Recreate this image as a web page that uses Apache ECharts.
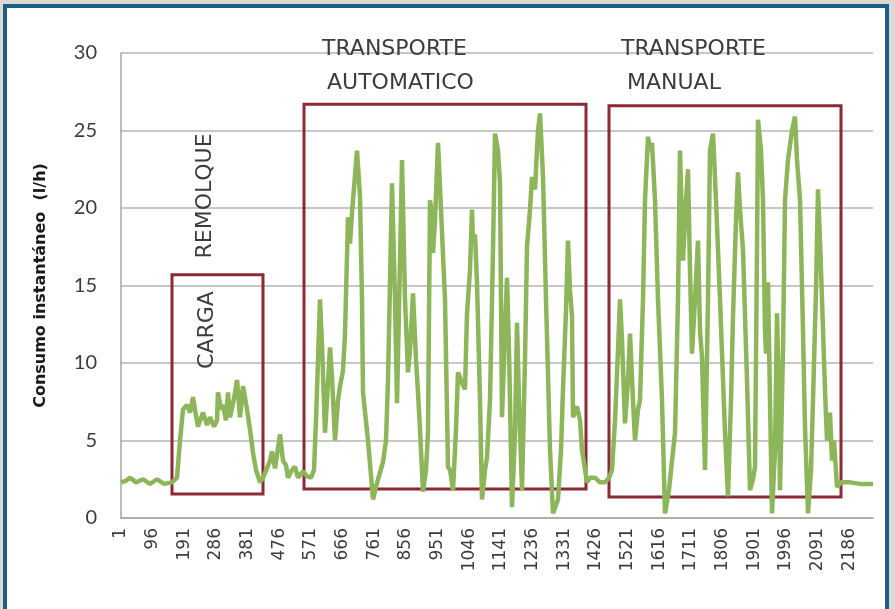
<!DOCTYPE html>
<html>
<head>
<meta charset="utf-8">
<script src="https://cdn.jsdelivr.net/npm/echarts@6/dist/echarts.min.js"></script>
<style>
html,body{margin:0;padding:0;background:#dcd9d4;width:895px;height:609px;overflow:hidden;}
#frame{position:absolute;left:3px;top:4px;width:878px;height:640px;border:4px solid #1b5f86;background:#fff;}
#chart{position:absolute;left:0;top:0;width:895px;height:609px;}
</style>
</head>
<body>
<div id="frame"></div>
<div id="chart"></div>
<script>
// Number of samples on the category axis
const sampleCount = 2257;
const categories = [];
for (let i = 1; i <= sampleCount; i++) categories.push(String(i));

// Sample numbers (x) and instantaneous consumption (l/h)
const sampleIdx = [
  1,16,28,46,67,88,109,130,154,169,178,187,199,208,217,226,232,247,259,268,
  280,289,292,301,307,316,322,328,340,349,358,367,379,388,397,406,418,427,439,448,
  454,463,472,478,487,496,502,514,523,532,538,547,559,571,580,586,592,598,604,613,
  619,628,634,643,652,658,667,673,682,688,694,703,709,718,724,727,742,757,772,787,
  796,802,808,814,823,829,838,844,853,862,868,877,886,892,898,907,916,922,928,934,
  937,943,952,961,973,982,988,997,1006,1012,1024,1033,1039,1048,1054,1057,1063,1069,1078,1084,
  1093,1099,1108,1117,1123,1132,1138,1144,1153,1159,1165,1168,1174,1183,1189,1195,1204,1213,1219,1228,
  1234,1243,1252,1258,1267,1276,1288,1297,1312,1321,1327,1336,1342,1348,1354,1357,1369,1378,1384,1399,
  1408,1423,1438,1453,1465,1474,1483,1492,1498,1504,1513,1522,1528,1537,1543,1552,1558,1567,1573,1582,
  1588,1594,1603,1612,1624,1633,1645,1654,1663,1672,1678,1687,1696,1702,1708,1714,1723,1732,1738,1744,
  1753,1762,1768,1777,1786,1798,1813,1822,1831,1837,1846,1852,1858,1867,1879,1888,1897,1903,1909,1912,
  1921,1927,1933,1936,1939,1942,1948,1954,1963,1969,1975,1978,1987,1993,2002,2014,2023,2029,2038,2047,
  2053,2062,2071,2077,2086,2092,2098,2104,2113,2119,2125,2128,2134,2140,2149,2161,2188,2218,2257
];
const consumo = [
  2.3,2.4,2.6,2.3,2.5,2.2,2.5,2.2,2.3,2.6,5.0,7.0,7.3,6.8,7.8,6.6,5.9,6.8,6.0,6.5,
  5.9,6.3,8.1,7.0,7.3,6.3,8.1,6.5,7.7,8.9,6.5,8.5,7.0,5.7,4.2,3.1,2.3,2.6,3.2,3.7,
  4.3,3.2,4.5,5.4,3.7,3.4,2.6,3.1,3.3,2.6,2.5,3.0,2.7,2.6,3.1,6.3,10.2,14.1,11.2,5.5,
  7.6,11.0,9.1,5.0,7.6,8.5,9.5,11.9,19.4,17.7,19.7,22.1,23.7,20.7,14.1,8.1,5.0,1.2,2.5,3.6,
  5.0,8.9,15.2,21.6,14.1,7.4,16.6,23.1,14.1,9.4,10.8,14.5,10.2,8.1,5.7,1.7,3.1,5.5,20.5,19.5,
  17.1,19.2,24.2,19.9,14.1,3.3,3.1,1.8,5.7,9.4,8.7,8.3,13.2,16.0,19.9,17.7,18.3,15.2,7.6,1.2,
  3.1,3.9,7.6,17.3,24.8,23.7,21.6,6.5,12.1,15.5,10.8,7.6,0.7,5.5,12.6,7.6,1.8,10.2,17.5,19.9,
  22.0,21.2,25.0,26.1,22.0,14.1,4.4,0.3,1.2,4.4,8.3,13.4,17.9,14.7,13.0,6.5,7.2,6.3,4.4,2.3,
  2.6,2.6,2.3,2.3,2.6,3.1,6.3,10.8,14.1,11.5,6.1,8.9,11.9,7.6,5.0,7.0,7.6,14.1,20.5,24.6,
  23.7,24.2,20.5,14.1,7.6,0.3,1.8,3.7,5.5,14.1,23.7,16.6,20.5,22.5,16.0,10.6,14.1,17.9,12.1,10.4,
  3.1,14.1,23.7,24.8,20.5,14.1,5.5,1.4,7.6,13.0,19.2,22.3,19.9,17.3,8.9,1.8,2.5,3.3,17.3,25.7,
  23.7,20.5,12.1,10.6,14.7,15.2,7.6,0.3,4.4,13.2,7.6,1.8,10.8,20.5,23.1,25.0,25.9,23.1,20.5,12.1,
  5.9,0.3,3.1,7.6,14.7,21.2,17.9,14.1,8.3,5.0,6.3,6.8,3.7,5.0,2.0,2.3,2.3,2.2,2.2
];

// Phase boxes: [start sample, end sample, bottom value, top value]
const phaseBoxes = [
  [154, 427, 1.55, 15.7],
  [550, 1396, 1.87, 26.7],
  [1465, 2161, 1.35, 26.6]
];
const yTicks = { min: 0, max: 30, interval: 5 };

const lineData = sampleIdx.map((s, i) => [String(s), consumo[i]]);
const areaData = phaseBoxes.map(b => [
  { xAxis: String(b[0]), yAxis: b[3] },
  { xAxis: String(b[1]), yAxis: b[2] }
]);

const chart = echarts.init(document.getElementById('chart'), null, { renderer: 'canvas' });
const txt = '#3c3c3c';
const annFont = '22px "DejaVu Sans"';
chart.setOption({
  backgroundColor: 'transparent',
  animation: false,
  grid: { left: 121, right: 22, top: 53, bottom: 91, containLabel: false },
  xAxis: {
    type: 'category',
    data: categories,
    boundaryGap: false,
    axisLine: { show: true, lineStyle: { color: '#a6a6a6', width: 1.5 } },
    axisTick: { show: false },
    axisLabel: {
      interval: 94,
      rotate: 90,
      margin: 10,
      color: txt,
      fontFamily: 'DejaVu Sans',
      fontSize: 17
    },
    splitLine: { show: false }
  },
  yAxis: {
    type: 'value',
    min: yTicks.min, max: yTicks.max, interval: yTicks.interval,
    name: 'Consumo instantáneo  (l/h)',
    nameLocation: 'middle',
    nameGap: 72,
    nameTextStyle: { color: '#1a1a1a', fontFamily: 'DejaVu Sans', fontWeight: 'bold', fontSize: 16 },
    axisLine: { show: true, lineStyle: { color: '#a6a6a6', width: 1.5 } },
    axisTick: { show: false },
    axisLabel: { color: txt, fontFamily: 'Lato', fontSize: 20, margin: 24 },
    splitLine: { show: true, lineStyle: { color: '#b4b4b4', width: 1.5 } }
  },
  series: [{
    type: 'line',
    data: lineData,
    showSymbol: false,
    symbol: 'none',
    lineStyle: { color: '#8db55a', width: 4.5 },
    z: 3,
    markArea: {
      silent: true,
      itemStyle: { color: 'rgba(0,0,0,0)', borderColor: '#8b2a35', borderWidth: 3 },
      data: areaData
    }
  }],
  graphic: [
    { type: 'text', left: 322, top: 38, z: 10, style: { text: 'TRANSPORTE', font: annFont, fill: txt } },
    { type: 'text', left: 327, top: 72, z: 10, style: { text: 'AUTOMATICO', font: annFont, fill: txt } },
    { type: 'text', left: 621, top: 38, z: 10, style: { text: 'TRANSPORTE', font: annFont, fill: txt } },
    { type: 'text', left: 627, top: 72, z: 10, style: { text: 'MANUAL', font: annFont, fill: txt } },
    { type: 'text', x: 207, y: 330, rotation: Math.PI / 2, z: 10, style: { text: 'CARGA', font: annFont, fill: txt, align: 'center', verticalAlign: 'middle' } },
    { type: 'text', x: 205, y: 196, rotation: Math.PI / 2, z: 10, style: { text: 'REMOLQUE', font: annFont, fill: txt, align: 'center', verticalAlign: 'middle' } }
  ]
});
</script>
</body>
</html>
